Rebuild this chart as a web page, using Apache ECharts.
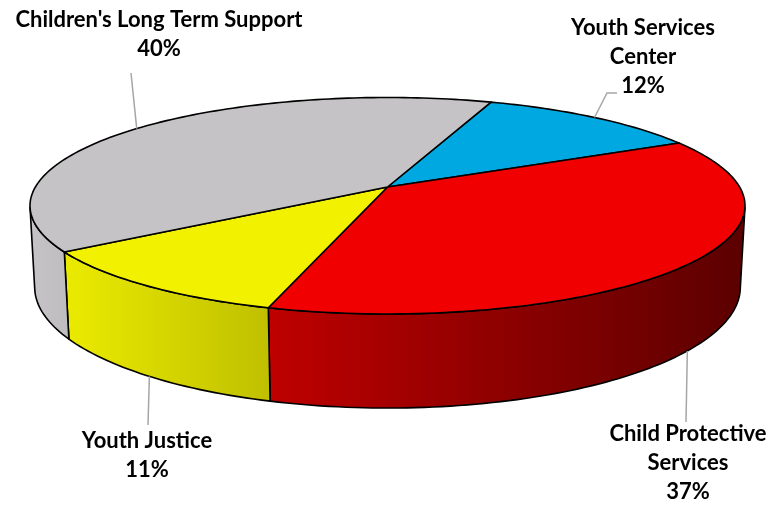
<!DOCTYPE html>
<html>
<head>
<meta charset="utf-8">
<script src="https://cdn.jsdelivr.net/npm/echarts/dist/echarts.min.js"></script>
<style>
  html, body { margin: 0; padding: 0; background: #ffffff; }
  #chart { width: 770px; height: 505px; }
</style>
</head>
<body>
<div id="chart"></div>
<script>
// Program budget shares, listed clockwise from the first slice
const categories = ['Youth Services\nCenter', 'Child Protective\nServices', 'Youth Justice', "Children's Long Term Support"];
const shares = [12, 37, 11, 40];
const percentLabels = ['12%', '37%', '11%', '40%'];
const sliceColors = ['#00A8E1', '#F00000', '#F2F200', '#C5C3C5'];

// Label placement (text block centre) and leader-line bends
const labelLayout = [
  { x: 643, y: 57,    rim: 'top',    leader: [[607, 93], [617, 93]] },
  { x: 688, y: 462.5, rim: 'bottom', leader: [[686, 422]] },
  { x: 147, y: 455.5, rim: 'bottom', leader: [[148, 425]] },
  { x: 159, y: 34,    rim: 'top',    leader: [[131, 73]] }
];

// Camera for the tilted, perspective pie
const VIEW = { cx: 387.5, cy: 187, focal: 1942.6, distance: 5.517, tilt: 17.35, depth: 0.24, startAngle: 20 };

const TILT = VIEW.tilt * Math.PI / 180;
const SIN_T = Math.sin(TILT), COS_T = Math.cos(TILT);

function project(X, Y, Z) {
  const d = VIEW.distance - Y * SIN_T + Z * COS_T;
  const u = Y * COS_T + Z * SIN_T;
  return [VIEW.cx + VIEW.focal * X / d, VIEW.cy - VIEW.focal * u / d];
}
function rimPoint(deg, Y) {
  const t = deg * Math.PI / 180;
  return project(Math.sin(t), Y, Math.cos(t));
}
function arcPoints(a, b, Y) {
  const n = Math.max(2, Math.ceil(Math.abs(b - a) / 1.2));
  const pts = [];
  for (let i = 0; i <= n; i++) pts.push(rimPoint(a + (b - a) * i / n, Y));
  return pts;
}

// Part of the rim that faces the camera
const zLimit = -1 / (VIEW.distance * COS_T);
const visFrom = Math.acos(zLimit) * 180 / Math.PI;
const visTo = 360 - visFrom;

function shade(hex, f) {
  const n = parseInt(hex.slice(1), 16);
  const r = Math.round(((n >> 16) & 255) * f);
  const g = Math.round(((n >> 8) & 255) * f);
  const b = Math.round((n & 255) * f);
  return 'rgb(' + r + ',' + g + ',' + b + ')';
}

const total = shares.reduce((s, v) => s + v, 0);
const starts = [];
shares.reduce((acc, v, i) => { starts[i] = acc; return acc + v; }, 0);

function renderItem(params, api) {
  const i = params.dataIndex;
  const value = api.value(0);
  const a0 = VIEW.startAngle + starts[i] / total * 360;
  const a1 = a0 + value / total * 360;
  const children = [];
  const color = sliceColors[i];
  const outline = { stroke: '#000000', lineWidth: 1.6, lineJoin: 'round' };

  // Side wall, clipped to the visible half of the rim
  [0, 360, -360].forEach(shift => {
    const s = Math.max(a0, visFrom + shift);
    const e = Math.min(a1, visTo + shift);
    if (e > s) {
      const top = arcPoints(s, e, 0);
      const bottom = arcPoints(e, s, -VIEW.depth);
      children.push({
        type: 'polygon',
        z2: 1,
        shape: { points: top.concat(bottom) },
        style: Object.assign({
          fill: {
            type: 'linear', x: 30, y: 0, x2: 745, y2: 0, global: true,
            colorStops: [{ offset: 0, color: shade(color, 1.0) }, { offset: 1, color: shade(color, 0.38) }]
          }
        }, outline)
      });
    }
  });

  // Top face
  children.push({
    type: 'polygon',
    z2: 2,
    shape: { points: [project(0, 0, 0)].concat(arcPoints(a0, a1, 0)) },
    style: Object.assign({ fill: color }, outline)
  });

  // Leader line and label
  const lay = labelLayout[i];
  const mid = (a0 + a1) / 2;
  const from = rimPoint(mid, lay.rim === 'top' ? 0 : -VIEW.depth);
  children.push({
    type: 'polyline',
    z2: 3,
    shape: { points: [from].concat(lay.leader) },
    style: { stroke: '#A6A6A6', lineWidth: 1.5, fill: null }
  });
  children.push({
    type: 'text',
    z2: 4,
    style: {
      text: categories[i] + '\n' + percentLabels[i],
      x: lay.x, y: lay.y,
      align: 'center', verticalAlign: 'middle',
      font: 'bold 22px Lato',
      lineHeight: 29,
      fill: '#000000'
    }
  });

  return { type: 'group', children: children };
}

const chart = echarts.init(document.getElementById('chart'), null, { renderer: 'canvas' });
chart.setOption({
  backgroundColor: '#ffffff',
  animation: false,
  series: [{
    type: 'custom',
    coordinateSystem: 'none',
    silent: true,
    renderItem: renderItem,
    data: shares.map(v => [v])
  }]
});
</script>
</body>
</html>
